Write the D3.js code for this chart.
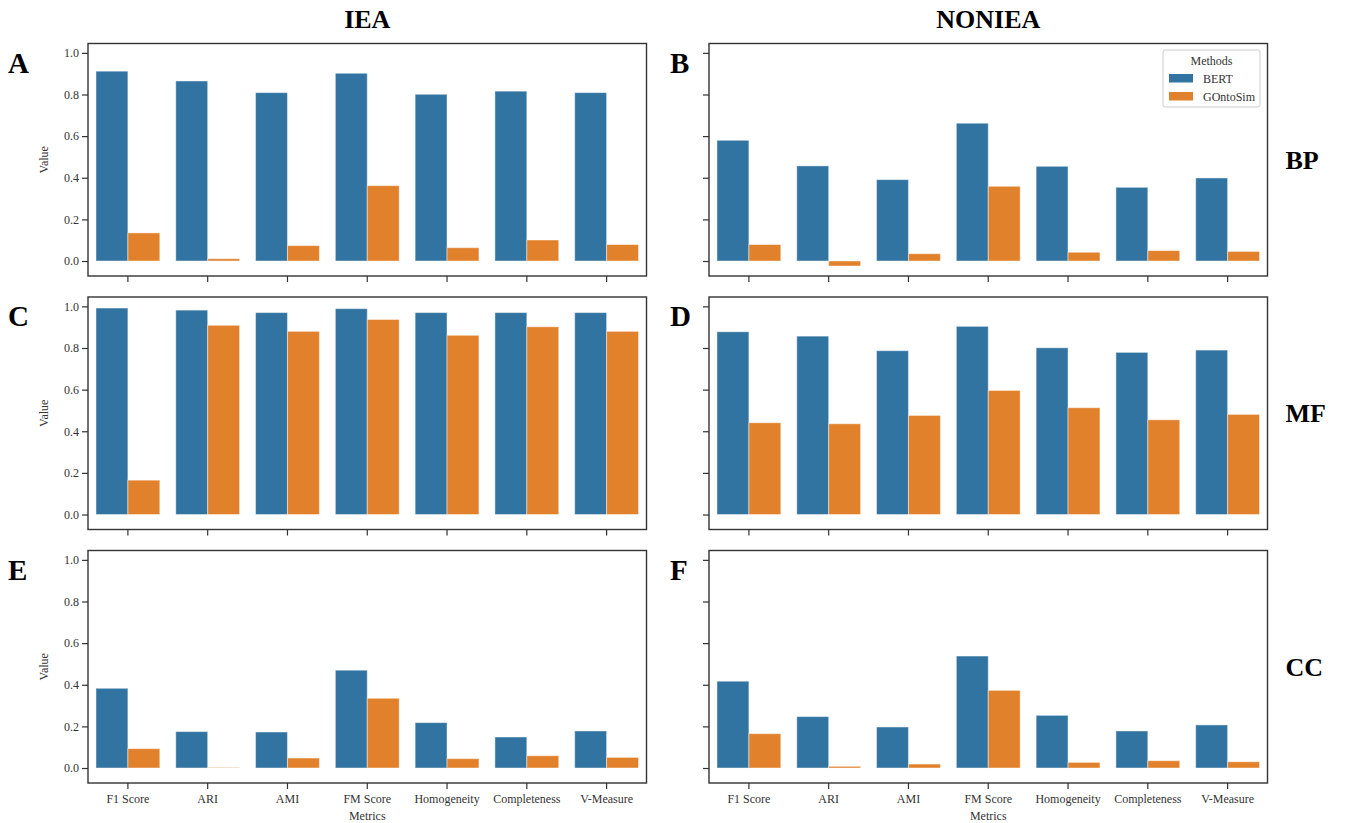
<!DOCTYPE html>
<html>
<head>
<meta charset="utf-8">
<script src="https://cdn.jsdelivr.net/npm/d3@7"></script>
<style>
  body { margin: 0; background: #fff; }
  svg { font-family: "Liberation Serif", "Times New Roman", serif; }
</style>
</head>
<body>
<svg id="chart" width="1345" height="823"></svg>
<script>
// categories & labels
const metrics = ["F1 Score", "ARI", "AMI", "FM Score", "Homogeneity", "Completeness", "V-Measure"];
const methods = ["BERT", "GOntoSim"];
const columns = ["IEA", "NONIEA"];
const ontologies = ["BP", "MF", "CC"];
const panelLetters = ["A", "B", "C", "D", "E", "F"];
const yTicks = [0.0, 0.2, 0.4, 0.6, 0.8, 1.0];

// values
const bertIEA_BP = [0.912, 0.865, 0.809, 0.902, 0.801, 0.816, 0.809];
const gontoIEA_BP = [0.135, 0.011, 0.074, 0.362, 0.064, 0.101, 0.079];
const bertNONIEA_BP = [0.580, 0.457, 0.391, 0.662, 0.455, 0.354, 0.399];
const gontoNONIEA_BP = [0.079, -0.024, 0.035, 0.359, 0.042, 0.050, 0.046];

const bertIEA_MF = [0.992, 0.982, 0.970, 0.989, 0.970, 0.970, 0.970];
const gontoIEA_MF = [0.165, 0.909, 0.880, 0.937, 0.861, 0.902, 0.880];
const bertNONIEA_MF = [0.878, 0.857, 0.787, 0.904, 0.801, 0.779, 0.790];
const gontoNONIEA_MF = [0.441, 0.436, 0.476, 0.596, 0.513, 0.455, 0.481];

const bertIEA_CC = [0.383, 0.175, 0.173, 0.470, 0.218, 0.149, 0.178];
const gontoIEA_CC = [0.093, 0.002, 0.048, 0.335, 0.045, 0.059, 0.051];
const bertNONIEA_CC = [0.417, 0.247, 0.197, 0.538, 0.253, 0.178, 0.207];
const gontoNONIEA_CC = [0.165, 0.008, 0.019, 0.373, 0.027, 0.035, 0.030];

const colors = { BERT: "#3274a1", GOntoSim: "#e1812c" };

// panels, row by row
const panels = [
  [bertIEA_BP, gontoIEA_BP], [bertNONIEA_BP, gontoNONIEA_BP],
  [bertIEA_MF, gontoIEA_MF], [bertNONIEA_MF, gontoNONIEA_MF],
  [bertIEA_CC, gontoIEA_CC], [bertNONIEA_CC, gontoNONIEA_CC]
].map((pair, i) => ({
  row: Math.floor(i / 2),
  col: i % 2,
  letter: panelLetters[i],
  data: metrics.map((m, j) => ({ metric: m, values: [
    { method: "BERT", value: pair[0][j] },
    { method: "GOntoSim", value: pair[1][j] }
  ] }))
}));

const svg = d3.select("#chart");
const colLeft = [88, 709];
const rowTop = [43.5, 297, 550.5];
const w = 558.5, h = 232.5;

const x = d3.scaleBand().domain(metrics).range([0, w]).paddingInner(0.2).paddingOuter(0.1);
const xSub = d3.scaleBand().domain(methods).range([0, x.bandwidth()]);
const y = d3.scaleLinear().domain([-0.072, 1.045]).range([h, 0]);

panels.forEach(p => {
  const g = svg.append("g").attr("transform", `translate(${colLeft[p.col]},${rowTop[p.row]})`);

  // bars
  const groups = g.selectAll(".grp").data(p.data).enter().append("g")
    .attr("transform", d => `translate(${x(d.metric)},0)`);
  groups.selectAll("rect").data(d => d.values).enter().append("rect")
    .attr("x", d => xSub(d.method))
    .attr("width", xSub.bandwidth())
    .attr("y", d => y(Math.max(0, d.value)))
    .attr("height", d => Math.abs(y(d.value) - y(0)))
    .attr("fill", d => colors[d.method])
    .attr("stroke", "rgba(255,255,255,0.45)")
    .attr("stroke-width", 1);

  // axes
  const yAxis = g.append("g")
    .call(d3.axisLeft(y).tickValues(yTicks).tickSize(6).tickPadding(3)
      .tickFormat(p.col === 0 ? d3.format(".1f") : ""));
  const xAxis = g.append("g").attr("transform", `translate(0,${h})`)
    .call(d3.axisBottom(x).tickSize(6).tickPadding(5)
      .tickFormat(p.row === 2 ? (d => d) : ""));
  [yAxis, xAxis].forEach(a => {
    a.select(".domain").remove();
    a.selectAll("line").attr("stroke", "#333").attr("stroke-width", 1.2);
    a.selectAll("text").attr("fill", "#333").style("font-size", "12px")
      .style("font-family", "'Liberation Serif', 'Times New Roman', serif");
  });

  // frame
  g.append("rect").attr("width", w).attr("height", h)
    .attr("fill", "none").attr("stroke", "#333").attr("stroke-width", 1.4);

  if (p.col === 0) {
    g.append("text")
      .attr("transform", `translate(-40,${h / 2}) rotate(-90)`)
      .attr("text-anchor", "middle").attr("fill", "#333")
      .style("font-size", "12px").text("Value");
  }
  if (p.row === 2) {
    g.append("text").attr("x", w / 2).attr("y", h + 37)
      .attr("text-anchor", "middle").attr("fill", "#333")
      .style("font-size", "12px").text("Metrics");
  }

  // panel letter
  svg.append("text")
    .attr("x", colLeft[p.col] - (p.col === 0 ? 80 : 39))
    .attr("y", rowTop[p.row] + 29)
    .style("font-size", "29px").style("font-weight", "bold")
    .text(p.letter);
});

// column titles
columns.forEach((c, i) => {
  svg.append("text").attr("x", colLeft[i] + w / 2).attr("y", 28)
    .attr("text-anchor", "middle")
    .style("font-size", "26px").style("font-weight", "bold").text(c);
});

// row labels
ontologies.forEach((o, i) => {
  svg.append("text").attr("x", colLeft[1] + w + 18).attr("y", rowTop[i] + h / 2 + 9)
    .style("font-size", "26px").style("font-weight", "bold").text(o);
});

// legend
const lg = svg.append("g").attr("transform", "translate(1163,50)");
lg.append("rect").attr("width", 97).attr("height", 57).attr("rx", 2)
  .attr("fill", "#fff").attr("stroke", "#ccc").attr("stroke-width", 1);
lg.append("text").attr("x", 48.5).attr("y", 15).attr("text-anchor", "middle")
  .attr("fill", "#333").style("font-size", "12px").text("Methods");
methods.forEach((m, i) => {
  lg.append("rect").attr("x", 6).attr("y", 24 + i * 18).attr("width", 24).attr("height", 8.5)
    .attr("fill", colors[m]);
  lg.append("text").attr("x", 40).attr("y", 33 + i * 18)
    .attr("fill", "#333").style("font-size", "12px").text(m);
});
</script>
</body>
</html>
